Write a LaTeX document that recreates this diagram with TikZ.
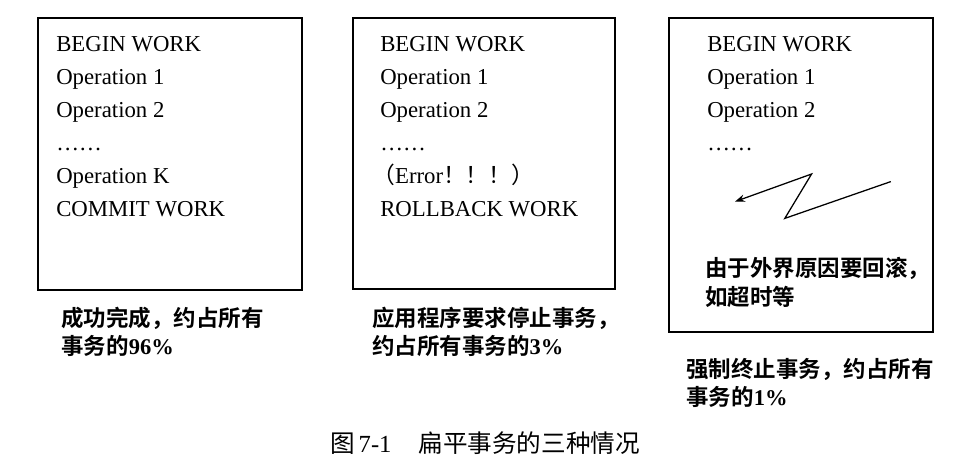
\documentclass[tikz,border=0pt]{standalone}
\usepackage{fontspec}
\setmainfont{Liberation Serif}
\newfontfamily\cjk{Noto Sans CJK SC}
\newfontfamily\cjkbold{Noto Sans CJK SC Bold}
\usetikzlibrary{arrows.meta}

\begin{document}
\begin{tikzpicture}[>=Stealth]
  \tikzset{
    frame/.style={rectangle, draw=black, fill=none, line width=1.4pt,
      minimum width=6.6cm, inner sep=0pt},
    codeline/.style={anchor=base west, inner sep=0pt,
      font=\fontsize{16.2}{18}\selectfont},
    note/.style={anchor=west, inner sep=0pt, align=left,
      font=\cjkbold\fontsize{16}{19.6}\selectfont},
    zigzag/.style={->, line width=0.9pt},
    figcap/.style={inner sep=0pt, font=\fontsize{17.5}{20}\selectfont}
  }
  \useasboundingbox (0,0) rectangle (24.475,-11.725);

  % the three transactions
  \node[frame, minimum height=6.8cm] (ok) at (4.25,-3.85) {};
  \node[frame, minimum width=6.55cm, minimum height=6.775cm] (err) at (12.1,-3.8375) {};
  \node[frame, minimum height=7.85cm] (ext) at (20.025,-4.375) {};

  \foreach \txt [count=\i] in {BEGIN WORK, Operation 1, Operation 2, ……,
      Operation K, COMMIT WORK}
    \node[codeline] (ok-\i) at (1.4,{-1.29-0.825*(\i-1)}) {\txt};

  \foreach \txt [count=\i] in {BEGIN WORK, Operation 1, Operation 2, ……,
      {\hspace{-0.35em}{\cjk（}Error{\cjk！！！）}}, ROLLBACK WORK}
    \node[codeline] (err-\i) at (9.5,{-1.29-0.825*(\i-1)}) {\txt};

  \foreach \txt [count=\i] in {BEGIN WORK, Operation 1, Operation 2, ……}
    \node[codeline] (ext-\i) at (17.675,{-1.29-0.825*(\i-1)}) {\txt};

  % rollback from outside
  \coordinate (z1) at (22.27,-4.54);
  \coordinate (z2) at (19.62,-5.46);
  \coordinate (z3) at (20.29,-4.35);
  \coordinate (z4) at (18.375,-5.04);
  \draw[zigzag] (z1) -- (z2) -- (z3) -- (z4);
  \node[note, font=\cjkbold\fontsize{16}{20.6}\selectfont] (why) at (17.625,-7.05)
    {由于外界原因要回滚，\\如超时等};

  % shares
  \node[note] (okshare) at (1.525,-8.3) {成功完成，约占所有\\事务的{\rmfamily\bfseries 96\%}};
  \node[note] (errshare) at (9.3,-8.3) {应用程序要求停止事务，\\约占所有事务的{\rmfamily\bfseries 3\%}};
  \node[note] (extshare) at (17.15,-9.575) {强制终止事务，约占所有\\事务的{\rmfamily\bfseries 1\%}};

  \node[figcap] (title) at (12.125,-11.075)
    {{\cjk 图}\,7-1\hspace{1.1em}{\cjk 扁平事务的三种情况}};
\end{tikzpicture}
\end{document}
